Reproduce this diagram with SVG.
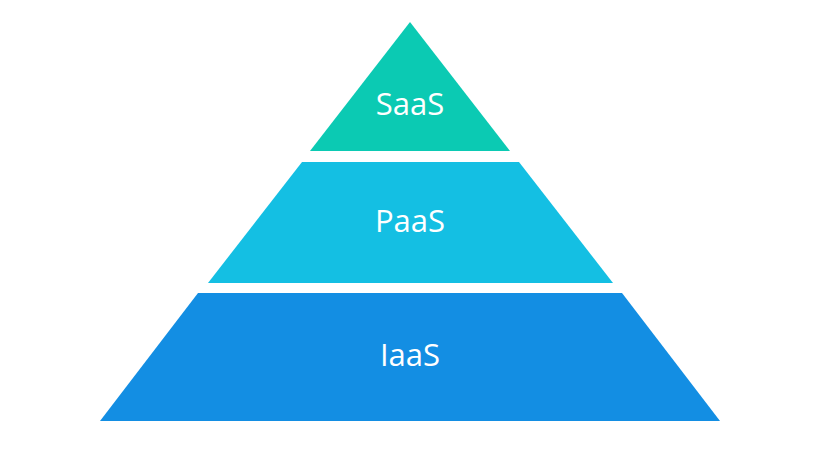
<svg xmlns="http://www.w3.org/2000/svg" width="821" height="460" viewBox="0 0 821 460">
<style>
.lbl{font-family:"Open Sans","Noto Sans",sans-serif;font-size:31px;fill:#ffffff;text-anchor:middle}
</style>
<rect width="821" height="460" fill="#ffffff"/>
<g id="saas">
<polygon points="410,22 510,151 310,151" fill="#0BCAB3"/>
<text class="lbl" x="410" y="115">SaaS</text>
</g>
<g id="paas">
<polygon points="302,162 519,162 613,283 208,283" fill="#14BFE3"/>
<text class="lbl" x="410" y="232">PaaS</text>
</g>
<g id="iaas">
<polygon points="198,293 622,293 720,421 100,421" fill="#138EE3"/>
<text class="lbl" x="410" y="366">IaaS</text>
</g>
<g id="connectors"/>
</svg>
